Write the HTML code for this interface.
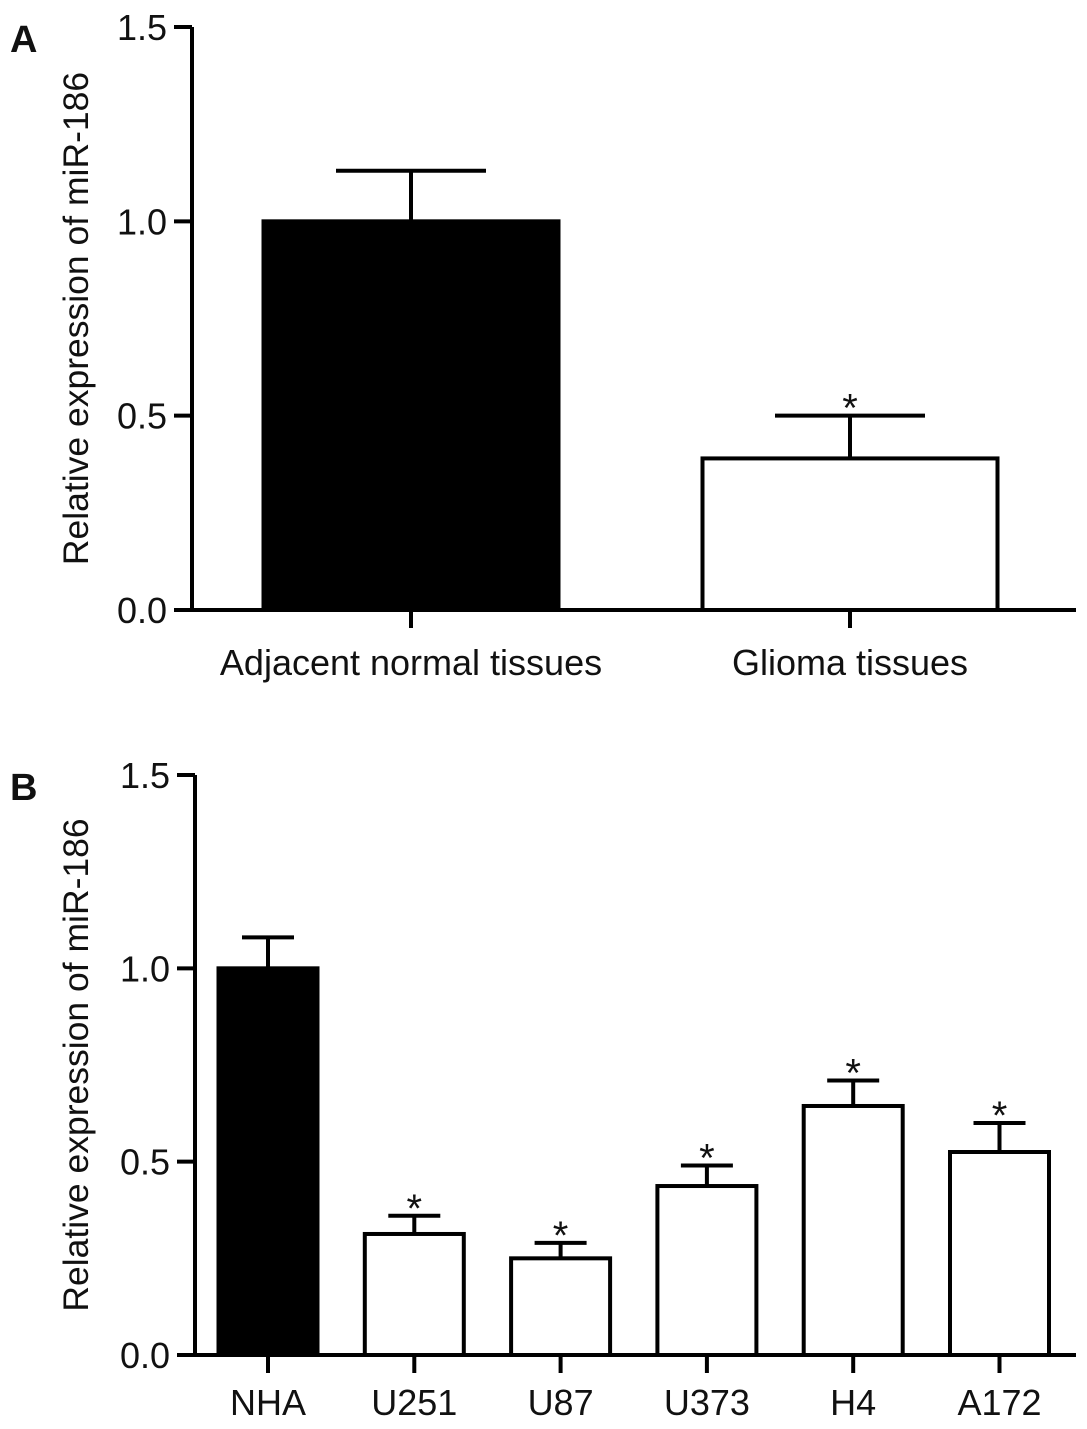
<!DOCTYPE html>
<html><head><meta charset="utf-8"><style>
html,body{margin:0;padding:0;background:#fff;}
svg{display:block;}
text{font-family:"Liberation Sans",Arial,sans-serif;fill:#111;}
</style></head><body>
<svg id="c" width="1087" height="1429"></svg>
<script>
const catsA=["Adjacent normal tissues","Glioma tissues"];
const valsA=[1.0,0.39];
const errA=[1.13,0.50];
const sigA=[false,true];
const catsB=["NHA","U251","U87","U373","H4","A172"];
const valsB=[1.0,0.313,0.25,0.437,0.644,0.525];
const errB=[1.08,0.36,0.29,0.49,0.71,0.60];
const sigB=[false,true,true,true,true,true];
const ticks=[0,0.5,1.0,1.5];
const tickLabels=["0.0","0.5","1.0","1.5"];
const svg=document.getElementById('c');
const NS="http://www.w3.org/2000/svg";
function mk(t,a,p){const e=document.createElementNS(NS,t);for(const k in a)e.setAttribute(k,a[k]);(p||svg).appendChild(e);return e;}
function panel(o){
  const g=mk('g',{});
  
  
  const y=v=>o.y0-(v/1.5)*(o.y0-o.y15);
  const x=i=>o.xc0+i*o.step;
  const L=mk('text',{x:10,y:o.letterY,'font-size':38,'font-weight':'bold'},g);L.textContent=o.letter;
  
  const ax=mk('line',{x1:o.ax,y1:o.y15,x2:o.ax,y2:o.y0+2,stroke:'#000','stroke-width':4},g);
  
  const xa=mk('line',{x1:o.ax-2,y1:o.y0,x2:1076,y2:o.y0,stroke:'#000','stroke-width':4},g);
  
  ticks.forEach((t,i)=>{
    const tl=mk('line',{x1:o.ax-18,y1:y(t),x2:o.ax,y2:y(t),stroke:'#000','stroke-width':4},g);
    
    const tx=mk('text',{x:o.ax-25,y:y(t)+13,'font-size':36,'text-anchor':'end'},g);tx.textContent=tickLabels[i];
    
  });
  const yt=mk('text',{x:0,y:0,'font-size':35.5,'text-anchor':'middle',transform:`translate(88,${(o.y0+o.y15)/2})) rotate(-90)`.replace('))',')')},g);
  yt.textContent="Relative expression of miR-186";
  
  o.cats.forEach((c,i)=>{
    const cx=x(i),hw=o.bw/2;
    const r=mk('rect',{x:cx-hw,y:y(o.vals[i]),width:o.bw,height:o.y0-y(o.vals[i]),fill:i==0?'#000':'#fff',stroke:'#000','stroke-width':4},g);
    
    const e=mk('path',{d:`M${cx},${y(o.vals[i])} V${y(o.err[i])} M${cx-o.cap},${y(o.err[i])} H${cx+o.cap}`,stroke:'#000','stroke-width':4,fill:'none'},g);
    
    const tk=mk('line',{x1:cx,y1:o.y0,x2:cx,y2:o.y0+18,stroke:'#000','stroke-width':4},g);
    
    const lb=mk('text',{x:cx,y:o.y0+o.lblOff,'font-size':36,'text-anchor':'middle'},g);lb.textContent=c;
    
    if(o.sig[i]){const s=mk('text',{x:cx,y:y(o.err[i])+6,'font-size':40,'text-anchor':'middle',fill:'#555','font-family':'Liberation Serif'},g);s.textContent='*';
      }
  });
}
panel({name:'panel-a',letter:'A',letterY:52,cats:catsA,vals:valsA,err:errA,sig:sigA,y0:610,y15:27,ax:192,xc0:411,step:439,bw:295,cap:75,lblOff:65});
panel({name:'panel-b',letter:'B',letterY:800,cats:catsB,vals:valsB,err:errB,sig:sigB,y0:1355,y15:775,ax:195,xc0:268,step:146.3,bw:99,cap:26,lblOff:60});
</script>
</body></html>
